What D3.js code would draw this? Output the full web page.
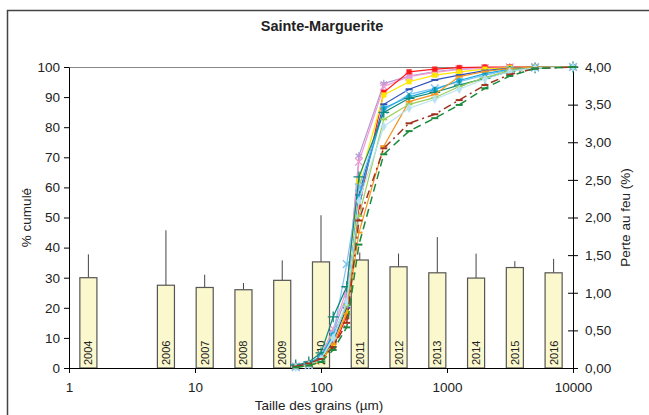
<!DOCTYPE html>
<html>
<head>
<meta charset="utf-8">
<script src="https://cdn.jsdelivr.net/npm/d3@7"></script>
<style>
    body{margin:0;background:#fff;}
    svg text{font-family:"Liberation Sans", Arial, sans-serif;fill:#222;}
</style>
</head>
<body>
<div id="chart"></div>
<script>
// tailles des tamis (µm)
var sieveSizes = [63, 80, 100, 125, 160, 200, 315, 500, 800, 1250, 2000, 3150, 5000, 10000];

// courbes granulométriques (% cumulé)
var curveNames = ['c1','c2','c3','c4','c5','c6','c7','c8','c9','c10','c11','c12','c13'];
var curveValues = [
    [1, 1.5, 3, 12, 24, 70.5, 94.5, 97, 98.5, 99.3, 99.7, 100, 100, 100],
    [0.5, 1, 4, 13, 26, 68.5, 93.5, 96.8, 98.2, 99.2, 99.6, 99.9, 100, 100],
    [0.3, 1.5, 3.5, 7, 17, 53.5, 91.6, 98.4, 99.3, 99.8, 100, 100, 100, 100],
    [0.5, 1.2, 2.5, 8, 19, 62, 90.7, 95.1, 97.3, 98.4, 99.3, 99.8, 100, 100],
    [0.5, 1, 3, 9, 20, 57.5, 87.6, 92.6, 95.7, 97.3, 98.8, 99.6, 100, 100],
    [0.3, 1, 3, 11, 34.5, 60, 85.7, 90.9, 92.9, 95.1, 97.3, 99, 99.8, 100],
    [0.5, 1.5, 4, 11, 21, 56.5, 86.3, 90.1, 92.5, 95.5, 97.8, 99.3, 99.9, 100],
    [1, 2, 5, 17, 27, 63.5, 84.9, 89.6, 91.6, 94, 96.2, 98.5, 99.7, 100],
    [0.2, 0.8, 2, 8, 18, 45, 73.7, 88.5, 90.9, 96.8, 98.5, 99.5, 100, 100],
    [0.3, 1, 2.5, 10, 21, 50.5, 82.6, 87.6, 89.8, 93.5, 96.5, 98.8, 99.8, 100],
    [0.2, 1, 3, 10, 22, 55.5, 80.2, 86.3, 89.3, 92.6, 96, 98.5, 99.7, 100],
    [0.5, 1.5, 3, 7, 15, 49, 73, 81.3, 84.3, 89, 94, 97.5, 99.5, 100],
    [0.2, 0.8, 2, 6, 13.5, 41, 71, 78.7, 83, 87.4, 92.9, 97, 99.5, 100]
];
var curveColors = ['#b49ad6','#f09ad0','#ff1a1a','#ffe600','#2f52b8','#7cc4f0','#1aa9e0','#0f8a78','#f7941d','#9bcf5a','#b8e2f2','#a0321e','#1a8a3c'];
var curveMarkers = ['asterisk','x','square','square','dash','x','circle','plus','dash','dash','diamond','dash','dash'];
var curveDashes = [null,null,null,null,null,null,null,null,null,null,null,'8,4,2,4','8,5'];

// perte au feu (%) par année
var barYears = ['2004','2005','2006','2007','2008','2009','2010','2011','2012','2013','2014','2015','2016'];
var barValues = [1.2, null, 1.1, 1.07, 1.04, 1.165, 1.41, 1.435, 1.345, 1.265, 1.195, 1.335, 1.265];
var barErrors = [0.31, null, 0.73, 0.17, 0.09, 0.265, 0.62, 0.1, 0.175, 0.475, 0.325, 0.085, 0.185];

var leftTicks = [0,10,20,30,40,50,60,70,80,90,100];
var rightTicks = [0,0.5,1,1.5,2,2.5,3,3.5,4];
var xTicks = [1,10,100,1000,10000];

var width = 649, height = 415;
var plot = {left:69, right:573, top:67, bottom:368};

var svg = d3.select('#chart').append('svg')
    .attr('width', width)
    .attr('height', height);

// cadre
svg.append('rect')
    .attr('x', 7.5).attr('y', 10.5)
    .attr('width', 700).attr('height', 500)
    .attr('fill', 'none')
    .attr('stroke', '#444')
    .attr('stroke-width', 1.5);

svg.append('text')
    .attr('x', 322).attr('y', 31)
    .attr('text-anchor', 'middle')
    .style('font-size', '14.5px')
    .style('font-weight', 'bold')
    .text('Sainte-Marguerite');

var x = d3.scaleLog().domain([1, 10000]).range([plot.left, plot.right]);
var yLeft = d3.scaleLinear().domain([0, 100]).range([plot.bottom, plot.top]);
var yRight = d3.scaleLinear().domain([0, 4]).range([plot.bottom, plot.top]);
var xBand = d3.scaleBand().domain(barYears).range([plot.left, plot.right])
    .paddingInner(0.56).paddingOuter(0.28);

// ligne du haut
svg.append('line')
    .attr('x1', plot.left).attr('x2', plot.right)
    .attr('y1', yLeft(100) + 0.5).attr('y2', yLeft(100) + 0.5)
    .attr('stroke', '#888').attr('stroke-width', 1);

// barres
var $bars = svg.append('g');
for(var i=0; i<barYears.length; i++){
    if(barValues[i] === null) continue;
    var bx = xBand(barYears[i]);
    var bw = xBand.bandwidth();
    $bars.append('line')
        .attr('x1', bx + bw/2).attr('x2', bx + bw/2)
        .attr('y1', yRight(barValues[i])).attr('y2', yRight(barValues[i] + barErrors[i]))
        .attr('stroke', '#444').attr('stroke-width', 1);
    $bars.append('rect')
        .attr('x', bx).attr('y', yRight(barValues[i]))
        .attr('width', bw).attr('height', yRight(0) - yRight(barValues[i]))
        .attr('fill', '#faf8cc')
        .attr('stroke', '#555').attr('stroke-width', 1.2);
    $bars.append('text')
        .attr('transform', 'translate(' + (bx + bw/2 + 4) + ',' + (plot.bottom - 3) + ') rotate(-90)')
        .style('font-size', '11px')
        .text(barYears[i]);
}

// axes
function styleAxis($g){
    $g.select('.domain').attr('stroke', '#000');
    $g.selectAll('.tick line').attr('stroke', '#000');
    $g.selectAll('.tick text').style('font-size', '13.5px').attr('fill', '#222');
}

var $axisX = svg.append('g')
    .attr('transform', 'translate(0,' + plot.bottom + ')')
    .call(d3.axisBottom(x).tickValues(xTicks).tickFormat(d3.format('d')).tickSize(5).tickSizeOuter(0).tickPadding(9));
styleAxis($axisX);

var $axisL = svg.append('g')
    .attr('transform', 'translate(' + plot.left + ',0)')
    .call(d3.axisLeft(yLeft).tickValues(leftTicks).tickSize(5).tickSizeOuter(0).tickPadding(4));
styleAxis($axisL);

var $axisR = svg.append('g')
    .attr('transform', 'translate(' + plot.right + ',0)')
    .call(d3.axisRight(yRight).tickValues(rightTicks)
        .tickFormat(function(d){ return d3.format('.2f')(d).replace('.', ','); })
        .tickSize(5).tickSizeOuter(0).tickPadding(7));
styleAxis($axisR);
$axisR.selectAll('.tick line').attr('x1', -5);

// titres des axes
svg.append('text')
    .attr('transform', 'translate(31,' + ((plot.top + plot.bottom)/2) + ') rotate(-90)')
    .attr('text-anchor', 'middle')
    .style('font-size', '13.5px')
    .text('% cumulé');
svg.append('text')
    .attr('transform', 'translate(630,' + ((plot.top + plot.bottom)/2) + ') rotate(-90)')
    .attr('text-anchor', 'middle')
    .style('font-size', '13.5px')
    .text('Perte au feu (%)');
svg.append('text')
    .attr('x', 319).attr('y', 410)
    .attr('text-anchor', 'middle')
    .style('font-size', '13.5px')
    .text('Taille des grains (µm)');

// courbes
var line = d3.line()
    .x(function(d){ return x(d[0]); })
    .y(function(d){ return yLeft(d[1]); });

var symbolTypes = {
    asterisk:d3.symbolAsterisk,
    x:d3.symbolX,
    plus:d3.symbolPlus,
    square:d3.symbolSquare,
    circle:d3.symbolCircle,
    diamond:d3.symbolDiamond
};

var $curves = svg.append('g');
for(var c=0; c<curveNames.length; c++){
    var pts = sieveSizes.map(function(s, k){ return [s, curveValues[c][k]]; });
    $curves.append('path')
        .datum(pts)
        .attr('d', line)
        .attr('fill', 'none')
        .attr('stroke', curveColors[c])
        .attr('stroke-width', curveDashes[c] ? 1.5 : 1.2)
        .attr('stroke-dasharray', curveDashes[c]);
    var $m = $curves.append('g');
    for(var k=0; k<pts.length; k++){
        var px = x(pts[k][0]), py = yLeft(pts[k][1]);
        var type = curveMarkers[c];
        if(type === 'dash'){
            $m.append('line')
                .attr('x1', px - 3.5).attr('x2', px + 3.5)
                .attr('y1', py).attr('y2', py)
                .attr('stroke', curveColors[c]).attr('stroke-width', 2);
        }else{
            var stroked = (type === 'asterisk' || type === 'x' || type === 'plus');
            $m.append('path')
                .attr('transform', 'translate(' + px + ',' + py + ')')
                .attr('d', d3.symbol().type(symbolTypes[type]).size(stroked ? 40 : 22)())
                .attr('fill', stroked ? 'none' : curveColors[c])
                .attr('stroke', curveColors[c])
                .attr('stroke-width', stroked ? 1.3 : 0.5);
        }
    }
}
</script>
</body>
</html>
